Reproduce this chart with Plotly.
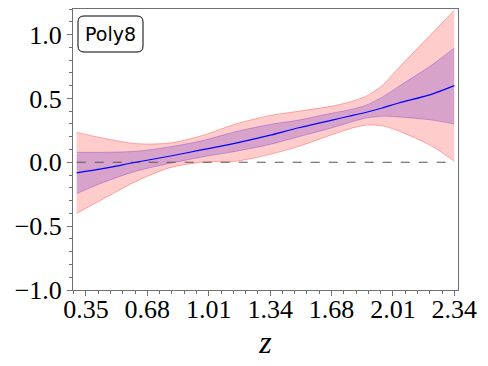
import numpy as np
import plotly.graph_objects as go

# values
z = [0.30, 0.44, 0.62, 0.80, 0.98, 1.16, 1.34, 1.50, 1.68, 1.77, 1.86, 1.95, 2.04, 2.22, 2.34]
mean = [-0.083, -0.05, 0.0, 0.047, 0.099, 0.15, 0.21, 0.27, 0.33, 0.36, 0.39, 0.425, 0.464, 0.534, 0.60]
inner_hi = [0.078, 0.078, 0.086, 0.12, 0.17, 0.24, 0.295, 0.33, 0.385, 0.41, 0.445, 0.51, 0.594, 0.763, 0.894]
inner_lo = [-0.245, -0.16, -0.07, -0.01, 0.042, 0.086, 0.138, 0.20, 0.27, 0.31, 0.345, 0.36, 0.355, 0.33, 0.30]
outer_hi = [0.234, 0.19, 0.146, 0.15, 0.21, 0.30, 0.365, 0.40, 0.44, 0.47, 0.515, 0.60, 0.74, 1.01, 1.19]
outer_lo = [-0.40, -0.29, -0.15, -0.044, 0.0, 0.008, 0.06, 0.125, 0.216, 0.26, 0.29, 0.285, 0.245, 0.125, 0.008]

xticks = np.linspace(0.35, 2.34, 7)
xtick_text = ["0.35", "0.68", "1.01", "1.34", "1.68", "2.01", "2.34"]
yticks = [-1.0, -0.5, 0.0, 0.5, 1.0]
ytick_text = ["\u22121.0", "\u22120.5", "0.0", "0.5", "1.0"]
label = "Poly8"

# page body has an 8px margin, so the figure is drawn 8px smaller and shifted
OFF = 8
W, H = 488 - OFF, 366 - OFF
L, R, T, B = 73 - OFF, 30, 9 - OFF, 76
SM = 0.8

fig = go.Figure()

# outer band (pink)
fig.add_trace(go.Scatter(x=z, y=outer_lo, mode="lines",
                         line=dict(color="rgba(255,0,0,0.3)", width=1, shape="spline", smoothing=SM)))
fig.add_trace(go.Scatter(x=z, y=outer_hi, mode="lines", fill="tonexty", fillcolor="rgba(255,0,0,0.2)",
                         line=dict(color="rgba(255,0,0,0.3)", width=1, shape="spline", smoothing=SM)))
# inner band (purple)
fig.add_trace(go.Scatter(x=z, y=inner_lo, mode="lines",
                         line=dict(color="rgba(80,0,200,0.25)", width=1, shape="spline", smoothing=SM)))
fig.add_trace(go.Scatter(x=z, y=inner_hi, mode="lines", fill="tonexty", fillcolor="rgba(60,0,200,0.2)",
                         line=dict(color="rgba(80,0,200,0.25)", width=1, shape="spline", smoothing=SM)))
# zero line
fig.add_trace(go.Scatter(x=[z[0], z[-1]], y=[0, 0], mode="lines", line=dict(color="#555555", width=1.2, dash="dash")))
# mean
fig.add_trace(go.Scatter(x=z, y=mean, mode="lines", line=dict(color="blue", width=1.2, shape="spline", smoothing=SM)))


def px(x):
    return (x - OFF - L) / (W - L - R)


def py(y):
    return (H - B - (y - OFF)) / (H - T - B)


# rounded label box (page pixel positions)
x0, x1, y0, y1, r = 78, 143, 16, 52, 6
path = (f"M {px(x0 + r)},{py(y0)} L {px(x1 - r)},{py(y0)} Q {px(x1)},{py(y0)} {px(x1)},{py(y0 + r)} "
        f"L {px(x1)},{py(y1 - r)} Q {px(x1)},{py(y1)} {px(x1 - r)},{py(y1)} "
        f"L {px(x0 + r)},{py(y1)} Q {px(x0)},{py(y1)} {px(x0)},{py(y1 - r)} "
        f"L {px(x0)},{py(y0 + r)} Q {px(x0)},{py(y0)} {px(x0 + r)},{py(y0)} Z")
fig.add_shape(type="path", path=path, xref="paper", yref="paper", line=dict(color="black", width=1), fillcolor="white")
fig.add_annotation(x=px((x0 + x1) / 2), y=py((y0 + y1) / 2), xref="paper", yref="paper", text=label, showarrow=False,
                   xanchor="center", yanchor="middle",
                   font=dict(family="DejaVu Sans", size=19, color="black"))

axis_common = dict(showgrid=False, zeroline=False, showline=True, mirror=True, linecolor="#707070", linewidth=1,
                   ticks="outside", ticklen=5, tickcolor="#707070", tickwidth=1, automargin=False,
                   tickfont=dict(family="Liberation Serif", size=26, color="black"))

fig.update_xaxes(range=[0.28, 2.36], tickmode="array", tickvals=xticks, ticktext=xtick_text, ticklabelstandoff=-9,
                 minor=dict(tickmode="linear", tick0=0.35, dtick=(2.34 - 0.35) / 30, ticks="outside", ticklen=3,
                            tickcolor="#707070"),
                 title=dict(text="<i>z</i>", font=dict(family="Liberation Serif", size=32, color="black"), standoff=0),
                 **axis_common)
fig.update_yaxes(range=[-1.0, 1.2], tickmode="array", tickvals=yticks, ticktext=ytick_text,
                 minor=dict(tickmode="linear", tick0=0, dtick=0.1, ticks="outside", ticklen=3, tickcolor="#707070"),
                 **axis_common)

fig.update_layout(width=W, height=H, margin=dict(l=L, r=R, t=T, b=B), showlegend=False,
                  plot_bgcolor="white", paper_bgcolor="white")

fig.write_html("out.html")
